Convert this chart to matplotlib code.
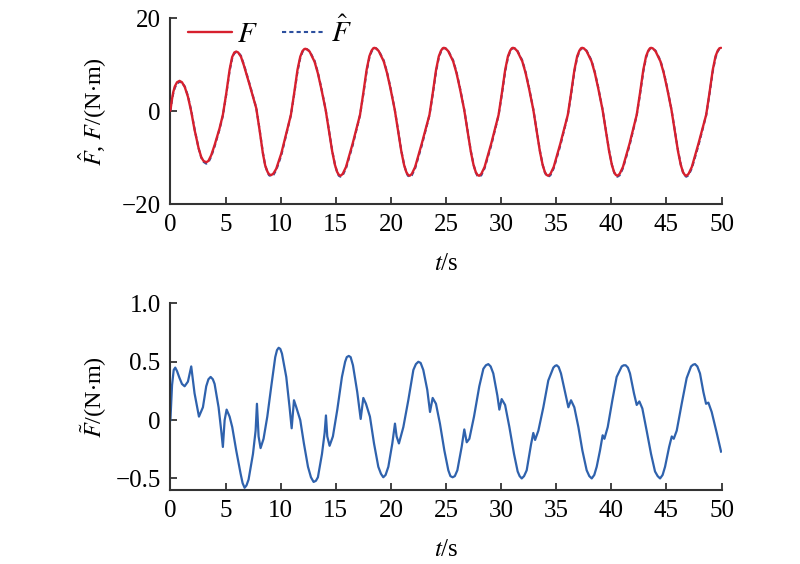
import matplotlib
matplotlib.use("Agg")
import matplotlib.pyplot as plt

plt.rcParams['font.family'] = ['Liberation Serif', 'DejaVu Serif']
plt.rcParams['mathtext.fontset'] = 'stix'
plt.rcParams['axes.unicode_minus'] = True

# ---------------- data: top panel (F and F_hat) ----------------
t_F = [0.0, 0.12, 0.25, 0.4, 0.6, 0.83, 1.05, 1.3, 1.59, 1.89,
       2.19, 2.56, 2.8, 3.0, 3.25, 3.45, 3.7, 4.01, 4.46, 4.76,
       5.07, 5.37, 5.6, 5.8, 5.97, 6.15, 6.4, 6.67, 7.19, 7.79,
       8.09, 8.39, 8.6, 8.8, 8.95, 9.15, 9.35, 9.6, 10.06, 10.51,
       10.93, 11.23, 11.53, 11.78, 11.98, 12.13, 12.23, 12.38, 12.63, 13.08, 13.38,
       13.68, 14.08, 14.38, 14.68, 14.93, 15.13, 15.28, 15.43, 15.63, 15.93, 16.53,
       17.2, 17.5, 17.8, 18.05, 18.25, 18.4, 18.5, 18.65, 18.9, 19.35, 19.65,
       19.95, 20.35, 20.65, 20.95, 21.2, 21.4, 21.55, 21.7, 21.9, 22.2, 22.8,
       23.5, 23.8, 24.1, 24.35, 24.55, 24.7, 24.8, 24.95, 25.2, 25.65, 25.95,
       26.25, 26.65, 26.95, 27.25, 27.5, 27.7, 27.85, 28.0, 28.2, 28.5, 29.1,
       29.77, 30.07, 30.37, 30.62, 30.82, 30.97, 31.07, 31.22, 31.47, 31.92, 32.22,
       32.52, 32.92, 33.22, 33.52, 33.77, 33.97, 34.12, 34.27, 34.47, 34.77, 35.37,
       36.05, 36.35, 36.65, 36.9, 37.1, 37.25, 37.35, 37.5, 37.75, 38.2, 38.5,
       38.8, 39.2, 39.5, 39.8, 40.05, 40.25, 40.4, 40.55, 40.75, 41.05, 41.65,
       42.3, 42.6, 42.9, 43.15, 43.35, 43.5, 43.6, 43.75, 44.0, 44.45, 44.75,
       45.05, 45.45, 45.75, 46.05, 46.3, 46.5, 46.65, 46.8, 47.0, 47.3, 47.9,
       48.6, 48.9, 49.2, 49.45, 49.65, 49.8, 49.95]
F_vals = [0.1, 2.2, 4.0, 5.3, 6.2, 6.5, 6.2, 5.2, 3.1, -0.1,
          -4.0, -8.0, -9.9, -10.7, -11.0, -10.7, -9.5, -7.3, -3.7, -0.8,
          3.85, 8.9, 11.6, 12.6, 12.8, 12.6, 11.7, 9.8, 5.6, 0.6,
          -4.1, -9.1, -11.7, -13.0, -13.6, -13.75, -13.4, -12.4, -9.1, -4.8,
          -0.8, 3.9, 8.9, 11.7, 12.9, 13.3, 13.4, 13.3, 12.8, 10.6, 8.1,
          4.9, 0.3, -4.2, -8.7, -11.6, -13.1, -13.7, -13.9, -13.5, -12.0, -7.0,
          -0.8, 3.9, 8.9, 11.8, 13.0, 13.5, 13.6, 13.5, 12.9, 10.7, 8.2,
          5.0, 0.3, -4.2, -8.7, -11.6, -13.1, -13.7, -13.9, -13.5, -12.0, -7.0,
          -0.8, 3.9, 8.9, 11.8, 13.0, 13.5, 13.6, 13.5, 12.9, 10.7, 8.2,
          5.0, 0.3, -4.2, -8.7, -11.6, -13.1, -13.7, -13.9, -13.5, -12.0, -7.0,
          -0.8, 3.9, 8.9, 11.8, 13.0, 13.5, 13.6, 13.5, 12.9, 10.7, 8.2,
          5.0, 0.3, -4.2, -8.7, -11.6, -13.1, -13.7, -13.9, -13.5, -12.0, -7.0,
          -0.8, 3.9, 8.9, 11.8, 13.0, 13.5, 13.6, 13.5, 12.9, 10.7, 8.2,
          5.0, 0.3, -4.2, -8.7, -11.6, -13.1, -13.7, -13.9, -13.5, -12.0, -7.0,
          -0.8, 3.9, 8.9, 11.8, 13.0, 13.5, 13.6, 13.5, 12.9, 10.7, 8.2,
          5.0, 0.3, -4.2, -8.7, -11.6, -13.1, -13.7, -13.9, -13.5, -12.0, -7.0,
          -0.8, 3.9, 8.9, 11.8, 13.0, 13.5, 13.6]
Fhat_vals = [0.0, 2.0, 3.7, 5.0, 5.9, 6.3, 6.1, 5.3, 3.3, 0.1,
             -3.8, -8.0, -10.0, -10.9, -11.3, -11.0, -9.8, -7.6, -3.9, -1.0,
             3.6, 8.6, 11.3, 12.4, 12.7, 12.6, 11.9, 10.0, 5.8, 0.7,
             -3.9, -8.9, -11.7, -13.1, -13.8, -14.0, -13.7, -12.7, -9.5, -5.1,
             -0.9, 3.6, 8.5, 11.4, 12.7, 13.2, 13.3, 13.3, 12.9, 10.8, 8.3,
             5.1, 0.4, -4.0, -8.5, -11.5, -13.2, -13.9, -14.1, -13.8, -12.3, -7.4,
             -0.9, 3.6, 8.5, 11.5, 12.8, 13.4, 13.5, 13.5, 13.0, 10.9, 8.4,
             5.2, 0.4, -4.0, -8.5, -11.5, -13.2, -13.9, -14.1, -13.8, -12.3, -7.4,
             -0.9, 3.6, 8.5, 11.5, 12.8, 13.4, 13.5, 13.5, 13.0, 10.9, 8.4,
             5.2, 0.4, -4.0, -8.5, -11.5, -13.2, -13.9, -14.1, -13.8, -12.3, -7.4,
             -0.9, 3.6, 8.5, 11.5, 12.8, 13.4, 13.5, 13.5, 13.0, 10.9, 8.4,
             5.2, 0.4, -4.0, -8.5, -11.5, -13.2, -13.9, -14.1, -13.8, -12.3, -7.4,
             -0.9, 3.6, 8.5, 11.5, 12.8, 13.4, 13.5, 13.5, 13.0, 10.9, 8.4,
             5.2, 0.4, -4.0, -8.5, -11.5, -13.2, -13.9, -14.1, -13.8, -12.3, -7.4,
             -0.9, 3.6, 8.5, 11.5, 12.8, 13.4, 13.5, 13.5, 13.0, 10.9, 8.4,
             5.2, 0.4, -4.0, -8.5, -11.5, -13.2, -13.9, -14.1, -13.8, -12.3, -7.4,
             -0.9, 3.6, 8.5, 11.5, 12.8, 13.4, 13.5]

# ---------------- data: bottom panel (error F_tilde) ----------------
t_E = [0.0, 0.15, 0.3, 0.44, 0.6, 0.83, 1.05, 1.29, 1.59, 1.89,
       2.19, 2.59, 2.95, 3.25, 3.45, 3.65, 3.85, 4.01, 4.37, 4.61,
       4.76, 4.92, 5.1, 5.37, 5.61, 5.97, 6.37, 6.55, 6.73, 6.9,
       7.09, 7.49, 7.73, 7.85, 8.0, 8.18, 8.45, 8.79, 9.15, 9.51,
       9.67, 9.82, 9.97, 10.12, 10.51, 10.81, 11.0, 11.21, 11.42, 11.78,
       12.11, 12.48, 12.75, 12.99, 13.2, 13.38, 13.75, 13.99, 14.11, 14.23,
       14.44, 14.74, 15.14, 15.56, 15.85, 16.0, 16.18, 16.35, 16.56, 16.95,
       17.26, 17.5, 17.74, 18.1, 18.47, 18.86, 19.1, 19.31, 19.52, 19.77,
       20.13, 20.37, 20.52, 20.73, 21.13, 21.58, 22.04, 22.27, 22.49, 22.7,
       22.94, 23.3, 23.55, 23.79, 24.09, 24.45, 24.85, 25.21, 25.4, 25.6,
       25.8, 26.03, 26.42, 26.66, 26.88, 27.12, 27.54, 28.02, 28.39, 28.62,
       28.84, 29.05, 29.29, 29.66, 29.84, 30.05, 30.36, 30.75, 31.17, 31.5,
       31.68, 31.87, 32.08, 32.32, 32.71, 32.92, 33.08, 33.38, 33.83, 34.28,
       34.74, 34.9, 35.04, 35.22, 35.43, 35.8, 36.1, 36.34, 36.64, 37.01,
       37.37, 37.76, 38.0, 38.22, 38.45, 38.67, 38.97, 39.21, 39.37, 39.67,
       40.09, 40.48, 40.94, 41.12, 41.3, 41.5, 41.69, 42.05, 42.3, 42.54,
       42.81, 43.2, 43.6, 43.96, 44.2, 44.42, 44.65, 44.87, 45.24, 45.48,
       45.66, 45.93, 46.38, 46.83, 47.23, 47.42, 47.59, 47.8, 48.04, 48.35,
       48.59, 48.8, 49.1, 49.56, 49.95]
E_vals = [0.0, 0.3, 0.43, 0.45, 0.42, 0.36, 0.31, 0.29, 0.33, 0.46,
          0.23, 0.03, 0.11, 0.29, 0.35, 0.37, 0.35, 0.31, 0.11, -0.09,
          -0.23, 0.0, 0.09, 0.03, -0.06, -0.26, -0.46, -0.54, -0.58, -0.56,
          -0.51, -0.29, -0.09, 0.14, -0.14, -0.24, -0.16, 0.03, 0.29, 0.54,
          0.6, 0.62, 0.61, 0.57, 0.37, 0.11, -0.07, 0.17, 0.11, 0.0,
          -0.2, -0.4, -0.49, -0.53, -0.52, -0.49, -0.29, -0.11, 0.04, -0.14,
          -0.22, -0.14, 0.09, 0.37, 0.5, 0.54, 0.55, 0.54, 0.47, 0.24,
          0.01, 0.19, 0.14, 0.03, -0.2, -0.4, -0.46, -0.49, -0.47, -0.4,
          -0.2, -0.03, -0.14, -0.2, -0.06, 0.17, 0.43, 0.48, 0.5, 0.49,
          0.43, 0.26, 0.07, 0.19, 0.14, -0.03, -0.26, -0.43, -0.48, -0.49,
          -0.48, -0.43, -0.23, -0.08, -0.19, -0.16, 0.03, 0.29, 0.44, 0.47,
          0.48, 0.46, 0.4, 0.21, 0.09, 0.18, 0.13, -0.06, -0.29, -0.44,
          -0.48, -0.5, -0.48, -0.43, -0.21, -0.11, -0.17, -0.09, 0.11, 0.34,
          0.45, 0.465, 0.47, 0.455, 0.4, 0.24, 0.11, 0.17, 0.11, -0.06,
          -0.26, -0.43, -0.48, -0.5, -0.47, -0.4, -0.26, -0.13, -0.16, -0.06,
          0.17, 0.37, 0.46, 0.47, 0.47, 0.45, 0.4, 0.23, 0.13, 0.16,
          0.1, -0.09, -0.29, -0.44, -0.48, -0.5, -0.47, -0.4, -0.23, -0.14,
          -0.16, -0.09, 0.14, 0.36, 0.46, 0.475, 0.48, 0.46, 0.4, 0.24,
          0.14, 0.15, 0.07, -0.11, -0.27]

x_ticks = [0, 5, 10, 15, 20, 25, 30, 35, 40, 45, 50]
top_yticks = [-20, 0, 20]
top_ylabels = ['\u221220', '0', '20']
bot_yticks = [-0.5, 0, 0.5, 1.0]
bot_ylabels = ['\u22120.5', '0', '0.5', '1.0']

red = '#d7202e'
blue_dash = '#2c4f9e'
blue = '#2f62ad'
spine_c = '#333333'

fig = plt.figure(figsize=(8.0, 5.64), dpi=100)
ax1 = fig.add_axes([0.213, 0.638, 0.689, 0.330])
ax2 = fig.add_axes([0.213, 0.131, 0.689, 0.331])

def style(ax):
    for s in ['top', 'right']:
        ax.spines[s].set_visible(False)
    for s in ['left', 'bottom']:
        ax.spines[s].set_linewidth(1.5)
        ax.spines[s].set_color(spine_c)
    ax.tick_params(direction='in', length=5, width=1.3, color=spine_c,
                   labelsize=18, pad=7)
    ax.set_xlim(0, 50)
    ax.set_xticks(x_ticks)
    ax.set_xticklabels([str(v) for v in x_ticks])

style(ax1)
style(ax2)

l_hat, = ax1.plot(t_F, Fhat_vals, color=blue_dash, lw=1.5, ls=(0, (2, 1.5)), zorder=2)
l_F, = ax1.plot(t_F, F_vals, color=red, lw=1.7, zorder=3,
                solid_joinstyle='round', solid_capstyle='round')
ax1.set_ylim(-20, 20)
ax1.set_yticks(top_yticks)
ax1.set_yticklabels(top_ylabels)
ax1.set_xlabel('$t$/s', fontsize=18, labelpad=12)
ax1.set_ylabel('$\\hat{F}$, $F$/(N$\\cdot$m)', fontsize=17.5, labelpad=10)

ax1.legend([l_F, l_hat], ['$F$', '$\\hat{F}$'], loc='upper left',
           bbox_to_anchor=(0.0, 1.1), ncol=2, frameon=False, fontsize=21,
           handlelength=1.5, columnspacing=0.8, handletextpad=0.2, borderaxespad=0.2)

ax2.plot(t_E, E_vals, color=blue, lw=1.6, solid_joinstyle='round')
ax2.set_ylim(-0.6, 1.0)
ax2.set_yticks(bot_yticks)
ax2.set_yticklabels(bot_ylabels)
ax2.set_xlabel('$t$/s', fontsize=18, labelpad=12)
ax2.set_ylabel('$\\tilde{F}$/(N$\\cdot$m)', fontsize=17.5, labelpad=4.5)

fig.savefig('out.png', dpi=100)
